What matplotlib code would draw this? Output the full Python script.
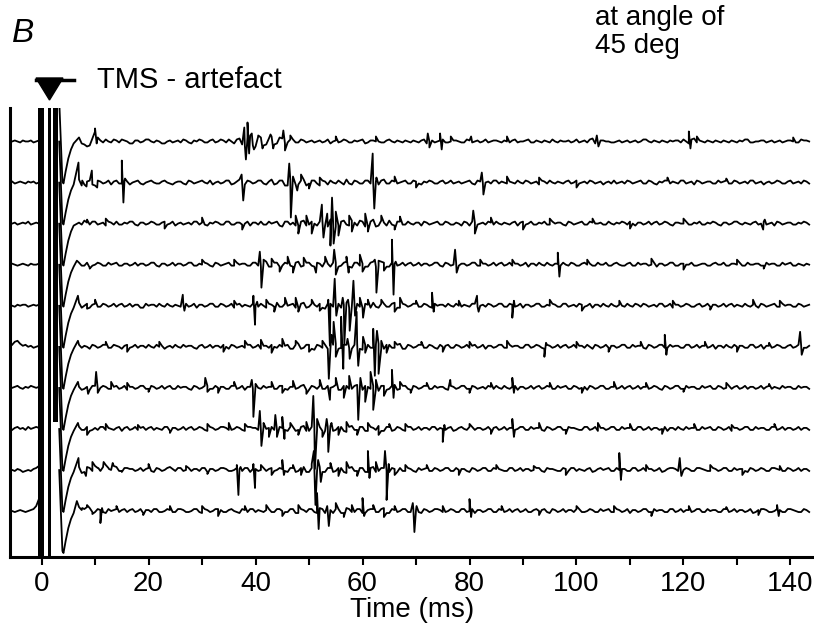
import numpy as np
import matplotlib
matplotlib.use("Agg")
import matplotlib.pyplot as plt
from matplotlib.patches import Polygon
from matplotlib.lines import Line2D

plt.rcParams['font.family'] = ['Liberation Sans', 'DejaVu Sans']

# x ticks (ms)
tick_ms = list(range(0, 141, 10))
tick_labels = [str(t) if t % 20 == 0 else "" for t in tick_ms]

# TMS artefact: saturated periods (start, end) in ms, and how far down each reaches (axes fraction)
artefact_ms = [(-0.6, 0.5), (1.2, 1.75), (2.2, 3.1)]
artefact_ymin = [0.0, 0.0, 0.3]

# recovery from the artefact, shared by all sweeps (ms, amplitude)
dip_t = [3.3, 3.9, 4.1, 4.5, 5.0, 5.5, 6.0]
dip_v = [41, -40, -42, -30, -17, -8, -2]

# baseline before the pulse, sampled every 0.5 ms from -5.5 ms
pre1 = [0, 1, 0, -1, 1, 0, 0, 1, -1, 0, 1]
pre2 = [1, -1, 0, 1, 0, -1, 1, 0, 1, -1, 0]
pre3 = [0, 1, -1, 0, 1, 0, 2, -1, 0, 1, 0]
pre4 = [1, 0, -1, 0, 1, 0, -1, 1, 0, 0, 1]
pre5 = [0, -1, 1, 0, 1, 1, -1, 0, 1, 0, 1]
pre6 = [2, 5, 6, 3, 1, 2, 0, 1, -1, 0, 1]
pre7 = [0, 1, 2, 0, -1, 1, 0, 2, 1, 0, 1]
pre8 = [-1, 1, 2, 0, 1, -1, 2, 0, 1, 2, 1]
pre9 = [0, -1, 1, 0, -2, -1, 0, -1, 1, 2, 4]
pre10 = [0, -1, 0, 1, 0, -1, 0, 1, 2, 5, 12]

# baseline after the artefact, on whole ms from 7 ms
base1 = [4, -3, -4, 10, 1, 2, -1, 1, 2, 0, -2, 1, 0, 2, -1, 0, -2, 1, 0, -1,
         1, -2, 0, 1, -1, 2, 0, 1, 2, -2, 3, -4, 6, -5, 4, -3, 5, -2, 3, -1,
         2, -1, 1, 0, -1, 1, 0, -2, 1, 0, 1, -1, 0, 2, -1, 1, 0, -1, 2, -1,
         0, 1, -1, 0, 1, -2, 1, 0, 2, -1, 1, 0, -1, 1, 0, -1, 2, 0, 1, -1,
         0, 1, -1, 0, 2, -1, 0, 1, -1, 0, 1, 0, -1, 2, 0, -1, 3, -1, 1, 0,
         -1, 1, 0, -1, 1, 0, 2, -1, 0, 1, -1, 0, 1, 2, -2, 3, 1, -1, 0, 1,
         -1, 0, 1, -1, 0, 2, -1, 0, 1, 0, -1, 1, 0, 1, -1, 2, 1]
base2 = [3, -2, 2, -3, 1, 0, -2, 2, -1, 1, 0, 2, -2, 1, 0, -1, 2, -1, 0, 1,
         -2, 1, 0, 2, -1, -2, 1, 0, 2, -1, 3, -2, 1, 0, 2, -2, 3, -1, 2, -3,
         4, -2, 3, -1, 2, -3, 1, 2, -1, 0, 3, -2, 1, -1, 2, 0, -2, 3, -1, 1,
         0, 2, -1, 1, -2, 0, 1, -1, 2, 0, -1, 1, 0, 2, -2, 1, 0, -1, 2, 1,
         -1, 0, 2, -1, 1, 0, -2, 1, 2, -1, 0, 1, -1, 2, 0, -1, 1, 0, -2, 1,
         2, 0, -1, 1, 0, 2, -1, 1, -2, 0, 2, 1, -1, 2, 0, -2, 1, 0, 1, -1,
         0, 2, -1, 1, 0, -1, 2, 0, -2, 1, 0, 1, -1, 2, 0, -1, 1]
base3 = [1, 3, -1, 2, 0, -2, 1, 2, -1, 0, 2, -2, 1, 0, 1, -1, 2, 0, -2, 1,
         0, -1, 2, 1, -2, 0, 1, -1, 2, -1, 1, 0, -2, 1, 2, -1, 0, 2, -3, 2,
         1, -2, 3, -1, 0, 2, -2, 4, -3, 2, -1, 3, -2, 2, -3, 4, -2, 1, 3, -2,
         2, -1, 0, 1, -2, 1, 0, 2, -1, 1, -1, 0, 2, -2, 1, 0, -1, 1, 2, -1,
         0, 1, -2, 2, 0, -1, 1, 2, -1, 0, 1, -2, 1, 0, 2, -1, 1, 0, -1, 2,
         -1, 0, 1, 2, -2, 1, 0, -1, 2, 0, 1, -2, 1, 0, -1, 1, 2, -1, 0, 1,
         -2, 1, 0, 2, -1, 0, 1, -1, 2, 0, -2, 1, 0, 1, -1, 0, 1]
base4 = [2, -1, -3, 0, 1, -1, 0, 2, -1, 1, 0, -1, 1, 0, 2, -2, 1, 0, -1, 1,
         0, 2, -1, 0, 1, -2, 1, 0, 2, -1, 0, 1, -1, 2, -2, 3, -2, 2, -1, 1,
         -2, 3, -1, 2, -2, 1, 3, -2, 2, -1, 3, -3, 2, 1, -2, 3, -1, 2, -2, 1,
         0, -1, 2, 0, -1, 1, 0, 2, -2, 1, 0, -1, 1, 0, 2, -1, 1, 0, -1, 2,
         0, -1, 1, 0, -2, 1, 2, -1, 0, 1, -1, 0, 2, -1, 1, 0, -1, 2, 0, -1,
         1, 0, -1, 2, -1, 0, 1, 0, -2, 1, 0, 2, -1, 1, 0, -1, 0, 1, -1, 2,
         0, -1, 1, 0, -1, 2, 0, 1, -1, 0, 1, -1, 0, 2, -1, 0, 1]
base5 = [3, 0, -2, 2, -1, 1, 0, -1, 2, 0, -1, 1, -2, 0, 1, 2, -1, 0, 1, -1,
         2, 0, -2, 1, 0, 2, -1, 1, 0, -2, 2, 1, -1, 0, 2, -2, 1, 3, -1, 0,
         2, -2, 3, -1, 1, 2, -3, 2, 0, -2, 3, -1, 2, -2, 1, 3, -2, 2, -1, 3,
         -2, 1, 0, 2, -1, 1, -2, 0, 1, 2, -1, 0, 1, -1, 2, 0, -1, 1, 0, 2,
         -1, 1, 0, -2, 1, 0, 2, -1, 0, 1, -1, 2, 0, -1, 1, 0, -2, 1, 2, -1,
         0, 1, -1, 0, 2, -1, 1, 0, -1, 2, 0, -2, 1, 0, 1, -1, 2, 0, -1, 1,
         0, -1, 2, 1, -1, 0, 1, -2, 1, 0, 2, -1, 0, 1, -1, 1, 0]
base6 = [2, 1, -2, 1, 0, 2, -1, 1, -2, 2, 0, -1, 1, 2, -1, 0, -2, 1, 2, -1,
         0, 1, -2, 2, 0, -1, 1, 2, -2, 1, 0, -1, 2, 0, -2, 1, 2, -1, 0, 2,
         -2, 3, -1, 2, -3, 1, 2, -2, 3, -1, 2, -2, 3, -3, 2, -1, 3, -2, 2, -1,
         3, -2, 1, 0, 2, -1, 1, -2, 0, 2, -1, 1, 0, -1, 2, 0, -2, 1, 0, 2,
         -1, 0, 1, -1, 2, 0, 1, -2, 1, 0, -1, 2, 0, -1, 1, 2, -2, 1, 0, -1,
         1, 0, 2, -1, 0, 1, -2, 1, 0, 2, -1, 0, 1, -1, 2, 0, -1, 1, 0, -2,
         1, 2, -1, 0, 1, -1, 2, 0, -2, 1, 0, 1, -1, 2, 0, 1, -1]
base7 = [1, -1, -2, 2, 0, 1, -1, 2, 0, -2, 1, 0, 2, -1, 1, 0, -1, 2, -1, 0,
         1, -2, 1, 0, 2, -1, 0, 1, -1, 2, 0, -2, 1, 2, -1, 0, 1, -1, 2, -2,
         1, 0, 3, -2, 1, 2, -1, 0, 3, -2, 2, -1, 3, -2, 1, 2, -3, 2, -1, 3,
         -1, 2, -2, 1, 0, 2, -1, 0, 1, -2, 1, 0, 2, -1, 1, 0, -1, 1, 2, -1,
         0, 1, -2, 1, 0, -1, 2, 0, 1, -1, 0, 2, -1, 1, 0, -2, 1, 0, 2, -1,
         1, 0, -1, 2, 0, -1, 1, 0, 1, -2, 1, 0, 2, -1, 0, 1, -1, 0, 2, -1,
         1, 0, -1, 2, 0, -1, 1, 0, -1, 2, 1, -1, 0, 1, -1, 0, 1]
base8 = [2, -1, -2, 1, 2, -1, 0, 1, -2, 2, 0, -1, 2, 1, -1, 0, 2, -2, 1, 0,
         -1, 2, 0, 1, -2, 1, 0, 2, -1, 0, 1, -2, 2, 1, -1, 0, 2, -1, 1, -2,
         2, -1, 3, -2, 1, 2, -2, 3, -1, 2, -3, 3, -1, 2, -2, 1, 3, -2, 2, -1,
         1, -2, 2, 0, -1, 1, 2, -1, 0, 1, -2, 1, 0, 2, -1, 1, 0, -1, 2, 0,
         -1, 1, 0, 2, -1, 0, 1, -2, 1, 0, 2, -1, 1, 0, -1, 2, 0, -2, 1, 0,
         2, -1, 0, 1, -1, 2, 0, -1, 1, 0, -2, 1, 2, -1, 0, 1, -1, 0, 2, -1,
         1, 0, -2, 1, 0, 2, -1, 0, 1, -1, 2, 0, -1, 1, 0, -1, 1]
base9 = [3, -2, 2, 4, -1, 5, 0, 3, -1, 2, 1, 0, -1, 2, -2, 1, 0, 3, -1, 2,
         0, -1, 1, 2, -2, 1, 0, 2, -1, 0, 1, 2, -2, 1, 0, -1, 2, 0, 1, -2,
         2, -1, 3, -2, 1, 3, -2, 2, -1, 2, -3, 3, -1, 2, -2, 3, -1, 2, -2, 1,
         2, -1, 1, -2, 0, 2, -1, 1, 0, 2, -1, 0, 1, -2, 1, 0, 2, -1, 1, 0,
         -1, 2, 0, -1, 1, 0, 2, -2, 1, 0, -1, 1, 2, -1, 0, 1, -2, 1, 0, 2,
         -1, 0, 1, -1, 2, 0, -1, 1, 0, -2, 1, 2, -1, 0, 1, -1, 2, 0, -1, 1,
         0, 2, -1, 0, 1, -2, 1, 0, 1, -1, 2, 0, -1, 1, 0, -1, 1]
base10 = [4, 2, 3, -1, 1, -2, 0, 2, 1, -1, 2, 0, -2, 1, 2, -1, 0, 1, -1, 2,
          -1, 0, 2, -2, 1, 0, 2, -1, 1, 0, -2, 1, 2, -1, 0, 1, -1, 2, 0, -1,
          2, -2, 1, 2, -1, 3, -2, 1, 2, -2, 3, -1, 2, -2, 1, 2, -1, 3, -2, 1,
          0, 2, -1, 1, -2, 1, 0, 2, -1, 0, 1, -1, 2, 0, -2, 1, 0, 2, -1, 1,
          0, -1, 2, 0, -1, 1, 0, 2, -2, 1, 0, -1, 1, 2, -1, 0, 1, -1, 0, 2,
          -1, 1, 0, -2, 1, 0, 2, -1, 0, 1, -1, 2, 0, -1, 1, 0, 2, -1, 0, 1,
          -1, 2, 0, -1, 1, 0, -2, 1, 2, -1, 0, 1, -1, 2, 0, -1, 1]

# baseline on the half ms (7.5, 8.5, ...)
mid1 = [-2, -5, 3, 4, -1, 0, 2, -1, 1, -2, 1, -1, 2, 0, 1, -2, 0, -1, 1, 2,
        -1, 1, 2, -1, 1, -1, 2, -1, 0, 2, -3, 4, -4, 5, -4, 3, -3, 4, -2, 2,
        -1, 2, -1, 1, 0, -1, 2, 0, -1, 2, -1, 1, 1, -2, 1, 0, -1, 1, 0, 1,
        -1, 0, 1, -1, 2, 0, -1, 1, -1, 0, 1, -1, 2, -1, 1, 0, -1, 1, 0, 1,
        -1, 2, 0, 1, -1, 1, -1, 0, 2, -1, 0, 1, 0, -1, 1, 2, -2, 1, 0, -1,
        0, -1, 1, 0, -1, 2, 0, 1, -1, 0, 1, 1, -1, 0, 2, -1, 0, 1, -1, 0,
        1, -1, 0, 1, 2, -1, 0, 1, -1, 1, 0, -1, 1, 0, -1, 1, 0]
mid2 = [-3, 1, -2, 2, -1, 2, 1, -1, 2, -2, 1, -1, 0, 2, -1, 1, 0, -2, 1, -1,
        2, -1, 1, 0, 2, 0, -1, 2, -2, 1, -1, 2, -1, 2, -1, 1, -2, 2, -3, 3,
        -2, 2, -3, 2, -1, 2, -2, 0, 2, -2, -1, 2, -1, 2, -1, 1, 2, -1, 2, -1,
        1, -1, 2, -1, 1, 2, -1, 1, -1, 2, 0, -1, 1, -1, 2, -1, 1, 2, -1, 0,
        1, -1, 0, 2, -1, 1, 2, -1, 0, 1, -1, 2, 0, -1, 1, 2, -1, 1, 0, -1,
        -1, 1, 2, -1, 1, -1, 2, -1, 1, 2, -1, 0, 2, -1, 1, 2, -1, 1, -1, 2,
        1, -1, 2, -1, 1, 2, -1, 1, 0, -1, 2, -1, 1, -1, 1, 2, -1]
mid3 = [-1, 1, 2, -1, 1, 2, -1, -1, 1, 2, -1, 1, -1, 2, -1, 1, -1, 2, 0, -1,
        1, 2, -1, -1, 1, 2, -1, 2, -1, 1, -1, 2, 1, -1, -1, 2, 1, -2, 2, -1,
        -2, 2, -2, 2, -2, 3, -3, 2, -2, 3, -2, 1, 3, -3, 2, -3, 3, -2, -1, 2,
        -1, 2, -1, 1, 2, -1, 1, -1, 2, -1, 1, -2, 1, 2, -1, 1, 2, -1, 0, 1,
        -1, 2, 1, -1, 2, -1, 0, -1, 2, 1, -1, 2, -1, 1, -1, 2, 0, 1, -1, 0,
        1, 2, -1, 0, 1, -1, 2, 1, -1, 2, -1, 1, 0, 2, -1, 0, -1, 1, 2, -1,
        1, -1, 2, 0, 1, -1, 2, 0, -1, 1, 2, -1, 1, -1, 1, 2, -1]
mid4 = [-1, 2, -1, 2, -1, 2, 1, -1, 1, -1, 2, 1, -1, 2, -1, 1, -1, 2, 1, -1,
        2, -1, 1, 2, -1, 2, -1, 1, -1, 2, 1, -1, 2, -1, 2, -2, 2, -2, 2, -1,
        2, -2, 2, -1, 2, -2, 1, 2, -2, 2, -2, 2, -1, -2, 2, -2, 3, -2, 2, -1,
        2, 1, -1, 2, 1, -1, 2, -1, 2, -1, 2, 1, -1, 2, -1, 1, -1, 2, 1, -1,
        2, 1, -1, 2, 1, -1, 0, 2, -1, 1, 2, -1, 1, -1, 2, 1, -1, 0, 2, -1,
        2, -1, 1, -1, 2, 1, -1, 2, 1, -1, 2, -1, 1, 0, 2, -1, 1, -1, 1, 0,
        2, -1, 1, 2, -1, 0, 1, -1, 2, 1, -1, 2, 1, -1, 1, -1, 0]
mid5 = [-2, 2, 1, -1, 2, -1, 2, 1, -1, 2, 1, -2, 2, 1, -1, 0, 2, -1, 0, 2,
        -1, 2, 1, -1, 2, -1, 2, -1, 2, 1, -1, 0, 2, -1, 0, 2, -1, -1, 2, 1,
        -2, 2, -2, 2, -1, -2, 2, -1, 2, 1, -2, 2, -1, 2, -2, -1, 2, -1, 2, -2,
        2, -1, 2, -1, 2, -1, 2, 1, -1, 0, 2, -1, 0, 2, -1, 1, 2, -1, 2, -1,
        2, -1, 2, 1, -1, 2, -1, 1, 2, -1, 2, -1, 1, 2, -1, 2, 1, -1, 0, 2,
        -1, 0, 2, -1, 1, 2, -1, 1, 2, -1, 2, 1, -1, 2, -1, 1, -1, 2, 1, -1,
        2, 1, -1, 0, 2, -1, 0, 2, -1, 1, -1, 2, 1, -1, 2, -1, 1]
mid6 = [-1, 0, 2, -1, 2, -1, 2, 0, 1, -1, 2, 1, -1, 0, 2, 1, 0, -1, 0, 2,
        1, -1, 1, -1, 2, 1, -1, 0, 2, -1, 1, 2, -1, 2, 1, -1, 0, 2, 1, -2,
        2, -2, 2, -2, 2, -1, -2, 2, -2, 2, -1, 2, -2, 2, -1, 2, -2, 2, -1, 2,
        -2, 2, -1, 2, -1, 2, -1, 2, 1, -1, 2, -1, 2, 1, -1, 2, 1, -1, 2, -1,
        2, 1, -1, 2, -1, 2, -1, 2, -1, 2, 1, -1, 2, 1, -1, 0, 2, -1, 2, 1,
        -1, 2, -1, 2, 1, -1, 2, -1, 2, -1, 2, 1, -1, 2, -1, 2, 1, -1, 2, 1,
        -1, 0, 2, 1, -1, 2, -1, 2, 1, -1, 2, -1, 1, -1, 2, -1, 1]
mid7 = [-2, 1, 2, -1, 2, -1, 1, -1, 2, 1, -1, 2, -1, 2, -1, 2, 1, -1, 2, 1,
        -1, 2, -1, 2, -1, 2, 1, -1, 2, -1, 2, 1, -1, 0, 2, 1, -1, 2, -1, 1,
        -1, 2, -2, 2, -1, -1, 2, 1, -2, 2, -1, 2, -2, 2, -1, -1, 2, -2, 2, -2,
        2, -1, 2, -1, 2, -1, 2, 1, -1, 2, -1, 2, -1, 2, -1, 1, 2, -1, 0, 2,
        -1, 2, 1, -1, 2, 1, -1, 2, -1, 2, 1, -1, 2, -1, 1, 2, -1, 2, -1, 1,
        -1, 2, 1, -1, 2, 1, -1, 2, -1, 2, -1, 2, -1, 2, 1, -1, 2, 1, -1, 2,
        -1, 2, 1, -1, 2, 1, -1, 2, 1, -1, 0, 2, 1, -1, 2, 1, -1]
mid8 = [-1, 2, -1, -1, 2, 1, -1, 2, 1, -1, 2, 1, -1, 2, 1, -1, 2, 1, -1, 2,
        1, -1, 2, -1, 2, -1, 2, 1, -1, 2, -1, 2, 1, -1, 2, 1, -1, 2, -1, 2,
        -2, 2, -2, 2, -1, -2, 2, -2, 2, -2, 2, -1, 2, -2, 2, -1, -2, 2, -2, 2,
        -1, 2, -1, 2, 1, -1, 2, 1, -1, 2, -1, 2, -1, 2, 1, -1, 2, 1, -1, 2,
        1, -1, 2, -1, 2, 1, -1, 2, -1, 2, -1, 2, 1, -1, 2, -1, 2, 1, -1, 2,
        -1, 2, 1, -1, 2, -1, 2, 1, -1, 2, 1, -1, 0, 2, 1, -1, 2, 1, -1, 2,
        -1, 2, 1, -1, 2, -1, 2, 1, -1, 2, -1, 2, 1, -1, 2, 1, -1]
mid9 = [-3, 3, -1, 2, 3, 2, 4, -1, 2, 1, -1, 2, 1, -1, 2, -1, 2, 1, 2, -1,
        2, 1, -1, 2, 1, -1, 2, 1, -1, 2, -1, 2, 1, -1, 2, 1, -1, 2, -1, 2,
        -2, 2, -2, 2, -1, -2, 2, -2, 2, -2, 2, -1, 2, -2, 2, -2, 2, -1, 2, -2,
        -1, 2, -1, 2, 1, -1, 2, -1, 2, -1, 2, 1, -1, 2, -1, 2, -1, 2, 1, -1,
        2, -1, 2, 1, -1, 2, -1, 2, 1, -1, 2, -1, 2, 1, -1, 2, -1, 2, 1, -1,
        2, 1, -1, 2, -1, 2, 1, -1, 2, -1, 2, 1, -1, 2, -1, 2, 1, -1, 2, -1,
        2, -1, 2, 1, -1, 2, -1, 2, -1, 2, 1, -1, 2, -1, 2, 1, -1]
mid10 = [1, 4, -1, 2, -1, 2, 1, -1, 2, 1, -1, 2, 1, -1, 2, -1, 2, -1, 2, 1,
         -1, 2, -1, 2, -1, 2, 1, -1, 2, -1, 2, -1, 2, 1, -1, 2, -1, 2, -1, 2,
         -2, 2, -1, 2, -2, 2, -1, -2, 2, -2, 2, -1, 2, -2, 2, -1, 2, -2, 2, -1,
         2, -1, 2, -1, 2, -1, 2, 1, -1, 2, -1, 2, -1, 2, 1, -1, 2, -1, 2, -1,
         2, 1, -1, 2, -1, 2, 1, -1, 2, -1, 2, 1, -1, 2, -1, 2, -1, 2, 1, -1,
         2, -1, 2, 1, -1, 2, -1, 2, 1, -1, 2, -1, 2, 1, -1, 2, -1, 2, 1, -1,
         2, -1, 2, 1, -1, 2, -1, 2, 1, -1, 2, -1, 2, 1, -1, 2, -1]

# spikes / motor units: (ms, amplitude)
spikes1 = [(10.0, 13), (10.3, -2), (37.9, 14), (38.2, -18), (38.5, 19), (38.8, -12),
           (39.3, 8), (39.7, -8), (40.5, 6), (41.3, -7), (42.8, 7), (43.3, -7),
           (45.2, 11), (45.5, -9), (46.5, 6), (55, 5), (62.5, 5), (72.2, 8), (72.5, -6),
           (74.5, 8), (74.8, -8), (76.5, 5), (80.3, 5), (87.0, 5), (103.8, 6), (104.1, -5),
           (121.0, 10), (121.3, -7), (122.5, 5), (140.5, 4)]
spikes2 = [(6.9, 20), (7.6, 2), (8.4, -4), (9.4, 12), (10.4, -5), (15.0, 22), (15.3, -20),
           (15.6, 4), (37.4, 8), (37.7, -18), (46.3, 19), (46.6, -35), (47.0, 6), (47.8, -8),
           (48.5, 8), (50, -6), (52, 5), (61.9, 29), (62.2, -26), (62.6, 5), (66, 6), (70, -5),
           (82.3, 10), (82.6, -12), (87, 6), (93, 5), (100, -5), (117, 5), (128, 4)]
spikes3 = [(8.5, 4), (12.0, 5), (23, -5), (30, 6), (37.5, -6), (47.5, 8), (48, -10),
           (49.5, 8), (50.5, -10), (52.4, 19), (52.7, -14), (53.4, 10), (54.0, -22),
           (54.3, 26), (54.6, -20), (55.0, 12), (55.5, -12), (57.5, 8), (58, -8), (60.5, 10),
           (61, -8), (63.5, 8), (66, -6), (67, 7), (80.7, 13), (81.0, -10), (84, 6), (90, -6),
           (95, 5), (103, 5), (110, -5), (120, 5), (134.9, -6), (135.2, 4)]
spikes4 = [(6.6, 4), (9.0, -4), (30, 5), (36, 5), (40.8, 13), (41.1, -23), (41.5, 5), (43, 6),
           (44.5, -7), (46, 8), (47, -8), (49, 7), (51.3, -8), (53, 8), (54.7, 15), (55.0, -10),
           (57, 8), (57.4, -8), (59.5, 10), (60, -7), (62.3, 5), (62.6, -28), (63.0, 4),
           (64, -6), (65.5, 25), (65.8, -30), (66.2, 3), (77.3, 15), (77.6, -8), (82, 5),
           (88, 5), (96.5, 12), (96.8, -12), (102, 5), (114, 6), (120, -5), (130, 5), (135, -4)]
spikes5 = [(6.8, 10), (8.5, -3), (10, 6), (26.4, 11), (26.7, -5), (36, 5), (39.6, 10),
           (39.9, -19), (40.3, 4), (42, 6), (43.5, -6), (45.5, 8), (47.5, 8), (48, -6),
           (50.5, 6), (52, -5), (53.6, 6), (53.9, -40), (54.8, 27), (55.1, -10), (56.3, 8),
           (56.6, -38), (57.3, 6), (57.6, -25), (58.3, 25), (58.6, -10), (59.5, 8), (60.1, -12),
           (61, 6), (63.5, 6), (66, -6), (67, 8), (70, 5), (73, 13), (73.3, -6), (78, 5),
           (81.4, 10), (81.7, -6), (88, -12), (88.3, 5), (95, 6), (101, -5), (108, 5),
           (118, 5), (125, -4), (133, 6), (138, 5)]
spikes6 = [(6.8, 6), (12, 5), (16, -5), (22, 5), (34, -5), (38, 6), (41, 7), (43, -6), (45, 8),
           (47.5, 6), (50, -5), (52.5, 6), (53.7, -32), (54.2, 12), (54.6, 25), (55.0, -10),
           (56.0, 30), (56.4, -22), (57.2, 8), (57.6, -12), (58.9, 35), (59.2, -19), (60.1, 10),
           (60.5, -6), (62.0, 18), (62.3, -29), (62.7, 16), (63.0, -27), (63.5, 6), (64.5, -6),
           (66, 5), (71, 5), (75, -5), (80, 5), (87, 6), (94, -10), (94.3, 4), (100, 5),
           (106, -5), (112, 5), (116.5, 12), (116.8, -8), (124, 5), (130, -5), (136, 4),
           (141.8, 15), (142.1, -8)]
spikes7 = [(6.8, 6), (8.7, -6), (10.2, 16), (10.5, -5), (13, 6), (16, 5), (20, -4), (30.6, 10),
           (31.0, -4), (33, -5), (36, 6), (39.3, 8), (39.6, -29), (40.0, 4), (43, 6), (45, -5),
           (47, 7), (49.5, -6), (52, 8), (53.9, -12), (55, 10), (56.5, -10), (57.5, 12),
           (59.2, -32), (59.6, 10), (60.5, -14), (61.5, 16), (62.0, -22), (62.5, 8), (64, -8),
           (65.5, 18), (65.8, -10), (67, 6), (69, -5), (72, 5), (76.4, 8), (80, -5), (84, 5),
           (88, 10), (88.3, -5), (95, 5), (101, -5), (107, 6), (113, 5), (120, -4), (128, 5),
           (136, 4)]
spikes8 = [(6.8, 6), (8.5, -6), (12, 5), (18, 4), (24, -4), (31, 5), (35, 6), (38, 5),
           (40.8, 18), (41.1, -17), (41.5, 6), (42.5, -8), (43.7, 14), (44.0, -8), (45.0, 12),
           (45.4, -10), (46.5, 6), (48, -6), (49.5, 7), (50.8, 33), (51.1, -40), (51.5, 10),
           (52.5, -8), (53.3, 10), (53.6, -23), (54.2, 6), (55.5, -6), (57, 7), (59, -6),
           (61, 6), (63, -6), (65, 5), (68, 5), (75, -13), (75.3, 4), (80, 5), (84, -5),
           (88, 10), (88.3, -8), (93, 6), (98, -5), (104, 6), (110, 5), (116, -5), (122, 5),
           (129, 4), (137, 5)]
spikes9 = [(6.9, 12), (8.3, -6), (9.5, 8), (10.6, 2), (11.6, 8), (12.6, 1), (13.3, 7),
           (15, -2), (20, 6), (27, 4), (31, -4), (36.5, 5), (36.8, -25), (37.2, 3), (39.6, 6),
           (39.9, -18), (41, 5), (43, -5), (45.0, 10), (45.3, -5), (47, 5), (48.5, -5),
           (50.5, 6), (50.9, 19), (51.2, -35), (51.7, 10), (52.2, -12), (54, 7), (55.5, -6),
           (57, 8), (59, -6), (61.0, 19), (61.3, -8), (62.5, 8), (64.2, 19), (64.5, -30),
           (64.9, 6), (66, -5), (68, 5), (72, 5), (78, -5), (85, 5), (92, 4), (98, -5),
           (108.0, 17), (108.3, -10), (113, 5), (119.3, 12), (119.6, -6), (125, 5),
           (131, -5), (138, 4)]
spikes10 = [(6.6, 10), (7.6, 3), (8.5, 6), (9.5, -3), (11.0, -12), (11.3, 3), (14, 5),
            (19, -4), (24, 5), (30, 5), (33, -5), (38, 5), (42, 6), (45, -5), (48, 6),
            (51.5, 18), (51.8, -18), (53.4, 5), (53.7, -15), (55.0, 8), (56.5, -6), (58, 6),
            (60.0, 13), (60.3, -5), (62, 6), (64, -6), (66, 5), (69.4, 8), (69.7, -21),
            (70.1, 5), (75, 5), (80.0, 12), (80.3, -6), (86, 5), (93, -4), (100, 5), (107, 5),
            (114, -5), (121, 5), (128, 4), (134, -4), (137.5, 6), (137.8, -5)]

pres = [pre1, pre2, pre3, pre4, pre5, pre6, pre7, pre8, pre9, pre10]
bases = [base1, base2, base3, base4, base5, base6, base7, base8, base9, base10]
mids = [mid1, mid2, mid3, mid4, mid5, mid6, mid7, mid8, mid9, mid10]
spikes = [spikes1, spikes2, spikes3, spikes4, spikes5, spikes6, spikes7, spikes8, spikes9, spikes10]

trace_gap = 41.1

fig = plt.figure(figsize=(8.14, 6.33), dpi=100)
W, H = 814, 633
ax = fig.add_axes([10 / W, 76 / H, 804 / W, 449 / H])

for i in range(len(bases)):
    off = -i * trace_gap
    pre_t = -5.5 + 0.5 * np.arange(len(pres[i]))
    pts = list(zip(dip_t, dip_v))
    pts += list(zip(7 + np.arange(len(bases[i])), bases[i]))
    pts += list(zip(7.5 + np.arange(len(mids[i])), mids[i]))
    pts += spikes[i]
    pts.sort(key=lambda p: p[0])
    post_t = np.array([p[0] for p in pts])
    post_v = np.array([p[1] for p in pts], dtype=float)
    t = np.concatenate([pre_t, [np.nan], post_t])
    v = np.concatenate([np.array(pres[i], dtype=float), [np.nan], post_v]) + off
    ax.plot(t, v, color='black', lw=1.3)

for (a, b), ymin in zip(artefact_ms, artefact_ymin):
    ax.axvspan(a, b, ymin=ymin, ymax=1, color='black', lw=0)

ax.set_xlim(-5.9, 144.4)
ax.set_ylim(-(len(bases) - 1) * trace_gap - 46, 33.5)

for s in ['top', 'right']:
    ax.spines[s].set_visible(False)
ax.spines['left'].set_linewidth(2.2)
ax.spines['bottom'].set_linewidth(2.2)
ax.set_yticks([])
ax.set_xticks(tick_ms)
ax.set_xticklabels(tick_labels)
ax.tick_params(axis='x', direction='out', length=6, width=1.5, labelsize=20, pad=4)
ax.set_xlabel('Time (ms)', fontsize=20, labelpad=0)

# annotations above the plot
fig.text(12 / W, 1 - 42 / H, 'B', fontsize=24, style='italic', va='baseline')
fig.text(97 / W, 1 - 88 / H, 'TMS - artefact', fontsize=21, va='baseline')
fig.text(595 / W, 1 - 25 / H, 'at angle of', fontsize=20, va='baseline')
fig.text(595 / W, 1 - 53 / H, '45 deg', fontsize=20, va='baseline')

tri = Polygon([[36 / W, 1 - 78 / H], [63 / W, 1 - 78 / H], [49.5 / W, 1 - 100 / H]],
              closed=True, color='black', transform=fig.transFigure)
fig.add_artist(tri)
fig.add_artist(Line2D([36 / W, 74 / W], [1 - 80 / H, 1 - 80 / H], color='black', lw=2.5,
                      transform=fig.transFigure))

fig.savefig('out.png', dpi=100)
